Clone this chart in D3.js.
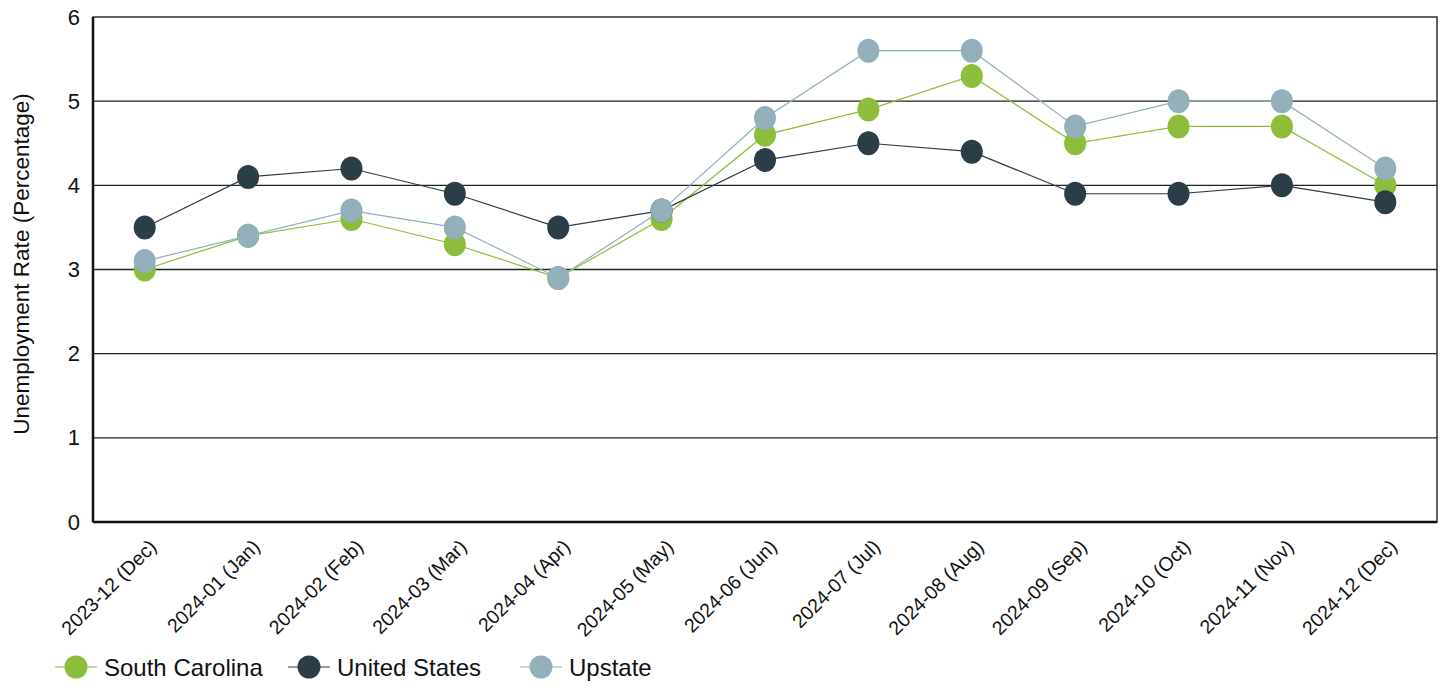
<!DOCTYPE html>
<html>
<head>
<meta charset="utf-8">
<script src="https://cdn.jsdelivr.net/npm/d3@7"></script>
<style>
  body { margin: 0; background: #fff; }
  svg { font-family: "Liberation Sans", Arial, sans-serif; }
</style>
</head>
<body>
<div id="chart"></div>
<script>
var width = 1443;
var height = 686;

var months = ["2023-12 (Dec)", "2024-01 (Jan)", "2024-02 (Feb)", "2024-03 (Mar)",
  "2024-04 (Apr)", "2024-05 (May)", "2024-06 (Jun)", "2024-07 (Jul)", "2024-08 (Aug)",
  "2024-09 (Sep)", "2024-10 (Oct)", "2024-11 (Nov)", "2024-12 (Dec)"];
var southCarolina = [3.0, 3.4, 3.6, 3.3, 2.9, 3.6, 4.6, 4.9, 5.3, 4.5, 4.7, 4.7, 4.0];
var unitedStates = [3.5, 4.1, 4.2, 3.9, 3.5, 3.7, 4.3, 4.5, 4.4, 3.9, 3.9, 4.0, 3.8];
var upstate = [3.1, 3.4, 3.7, 3.5, 2.9, 3.7, 4.8, 5.6, 5.6, 4.7, 5.0, 5.0, 4.2];
var yTicks = [0, 1, 2, 3, 4, 5, 6];

var series = [
  { name: "South Carolina", values: southCarolina, color: "#8dbd3a" },
  { name: "United States", values: unitedStates, color: "#2b3e47" },
  { name: "Upstate", values: upstate, color: "#92afba" }
];

var margin = { top: 17, right: 6, bottom: 164, left: 93 };
var plotW = width - margin.left - margin.right;
var plotH = height - margin.top - margin.bottom;

var svg = d3.select("#chart").append("svg")
  .attr("width", width)
  .attr("height", height);

var g = svg.append("g")
  .attr("transform", `translate(${margin.left},${margin.top})`);

var x = d3.scaleBand().domain(months).range([0, plotW]).padding(0);
var y = d3.scaleLinear().domain([0, 6]).range([plotH, 0]);

// gridlines
g.selectAll(".grid")
  .data(yTicks.filter((t) => t > 0 && t < 6))
  .enter()
  .append("line")
  .attr("x1", 0)
  .attr("x2", plotW)
  .attr("y1", (d) => y(d))
  .attr("y2", (d) => y(d))
  .style("stroke", "#222")
  .style("stroke-width", 1.3);

// frame
g.append("rect")
  .attr("x", 0)
  .attr("y", 0)
  .attr("width", plotW)
  .attr("height", plotH)
  .style("fill", "none")
  .style("stroke", "#222")
  .style("stroke-width", 1.4);

g.append("line")
  .attr("x1", 0).attr("x2", 0).attr("y1", 0).attr("y2", plotH)
  .style("stroke", "#111").style("stroke-width", 2.5);
g.append("line")
  .attr("x1", 0).attr("x2", plotW).attr("y1", plotH).attr("y2", plotH)
  .style("stroke", "#111").style("stroke-width", 2.5);

// y tick labels
var yAxis = d3.axisLeft(y).tickValues(yTicks).tickFormat(d3.format("d")).tickSize(0).tickPadding(13);
g.append("g")
  .call(yAxis)
  .call((s) => s.select(".domain").remove())
  .selectAll("text")
  .style("font-size", "22px")
  .style("fill", "#111")
  .style("font-family", "Liberation Sans, Arial, sans-serif");

// x tick labels
var xAxis = d3.axisBottom(x).tickSize(0).tickPadding(0);
var xg = g.append("g")
  .attr("transform", `translate(0,${plotH})`)
  .call(xAxis);
xg.select(".domain").remove();
xg.selectAll("text")
  .attr("text-anchor", "end")
  .attr("dy", 0)
  .attr("y", 0)
  .attr("transform", "translate(13,26) rotate(-45)")
  .style("font-size", "19.5px")
  .style("fill", "#111")
  .style("font-family", "Liberation Sans, Arial, sans-serif");

// y title
svg.append("text")
  .attr("transform", "translate(29,264) rotate(-90)")
  .attr("text-anchor", "middle")
  .style("font-size", "22.5px")
  .style("fill", "#111")
  .text("Unemployment Rate (Percentage)");

// lines and markers
var line = d3.line()
  .x((d, i) => x(months[i]) + x.bandwidth() / 2)
  .y((d) => y(d));

series.forEach((s) => {
  g.append("path")
    .datum(s.values)
    .attr("d", line)
    .style("fill", "none")
    .style("stroke", s.color)
    .style("stroke-width", 1.2);

  g.selectAll(null)
    .data(s.values)
    .enter()
    .append("ellipse")
    .attr("cx", (d, i) => x(months[i]) + x.bandwidth() / 2)
    .attr("cy", (d) => y(d))
    .attr("rx", 11)
    .attr("ry", 12)
    .style("fill", s.color);
});

// legend
var legendX = [55, 288, 520];
var legend = svg.append("g").attr("transform", "translate(0,667)");
series.forEach((s, i) => {
  var item = legend.append("g").attr("transform", `translate(${legendX[i]},0)`);
  item.append("line")
    .attr("x1", 0).attr("x2", 42).attr("y1", 0).attr("y2", 0)
    .style("stroke", s.color).style("stroke-width", 1.2);
  item.append("ellipse")
    .attr("cx", 21).attr("cy", 0).attr("rx", 11.5).attr("ry", 11.5)
    .style("fill", s.color);
  item.append("text")
    .attr("x", 49)
    .attr("dy", "0.36em")
    .style("font-size", "24px")
    .style("fill", "#111")
    .text(s.name);
});
</script>
</body>
</html>
